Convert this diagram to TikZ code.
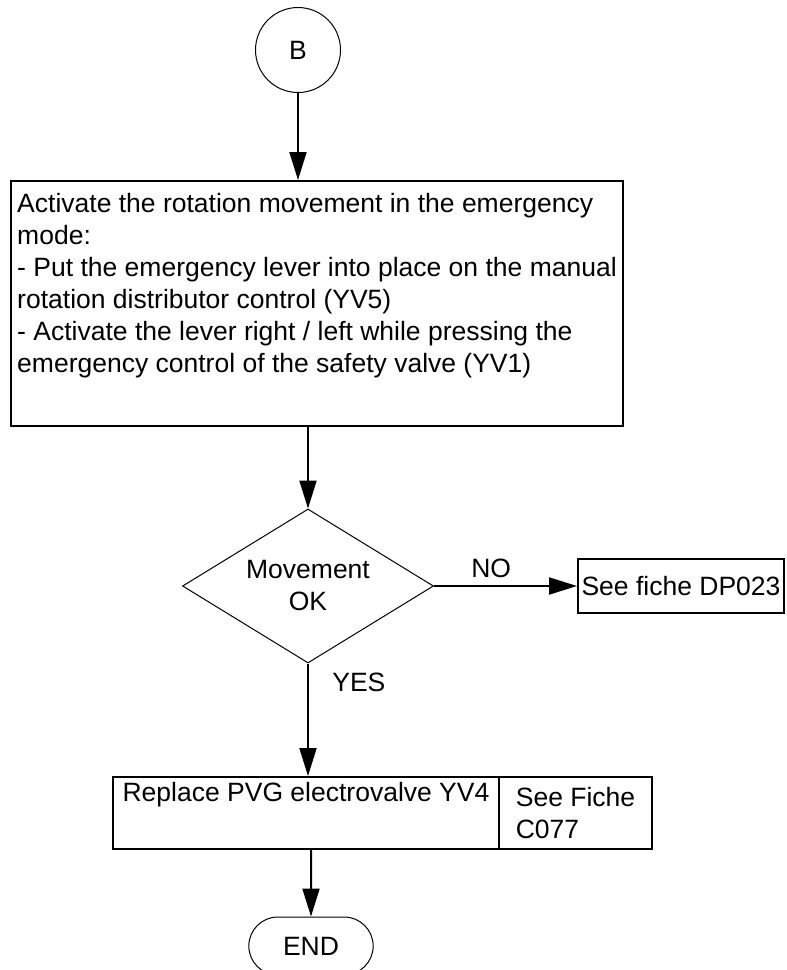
\documentclass[tikz,border=0pt]{standalone}
\usepackage{fontspec}
\setmainfont{Liberation Sans}
\usetikzlibrary{shapes.geometric,shapes.misc,arrows.meta}

\begin{document}
\begin{tikzpicture}[
        x=1pt, y=-1pt,
        flow_font/.style={font=\fontsize{26.5pt}{32pt}\selectfont},
        step_block/.style={draw, rectangle, line width=2pt, align=left, flow_font},
        test_block/.style={draw, diamond, aspect=1.63, line width=1pt, minimum width=251pt, minimum height=154pt, inner sep=0pt, align=center, flow_font},
        start_circle/.style={draw, circle, line width=1pt, minimum size=85pt, flow_font},
        end_block/.style={draw, rounded rectangle, line width=1pt, minimum width=131pt, minimum height=58pt, flow_font},
        arrow/.style={arrows={-Triangle[length=28pt, width=17pt]}, line width=2pt},
        label_text/.style={flow_font}
    ]
        \useasboundingbox (0,0) rectangle (787,970);

        % connector B
        \node (start) at (298, 50) [start_circle] {B};

        % emergency mode
        \node (emerg) at (317, 303.5) [step_block, minimum width=612pt, minimum height=245pt] {Activate the rotation movement in the emergency\\ mode:\\ - Put the emergency lever into place on the manual\\ rotation distributor control (YV5)\\ - Activate the lever right / left while pressing the\\ emergency control of the safety valve (YV1)\\ \strut};

        % test
        \node (test) at (308, 586) [test_block] {Movement\\ OK};
        \node (dp) at (681, 586) [step_block, minimum width=206pt, minimum height=54pt] {See fiche DP023};

        % replace
        \node (repl) at (306, 813) [step_block, minimum width=386pt, minimum height=72pt] {Replace PVG electrovalve YV4\\ \strut};
        \node (fiche) at (575.5, 813) [step_block, minimum width=153pt, minimum height=72pt] {See Fiche\\ C077};

        \node (end) at (311, 946) [end_block] {END};

        % Connections
        \draw [arrow] (start) -- (start |- emerg.north);
        \draw [arrow] (test |- emerg.south) -- (test);
        \draw [arrow] (test) -- (dp) node[pos=0.4, above, yshift=4pt, label_text] {NO};
        \draw [arrow] (test) -- (test |- repl.north) node[pos=0.17, right=20pt, label_text] {YES};
        \draw [arrow] (end |- repl.south) -- (end);

    \end{tikzpicture}
\end{document}
